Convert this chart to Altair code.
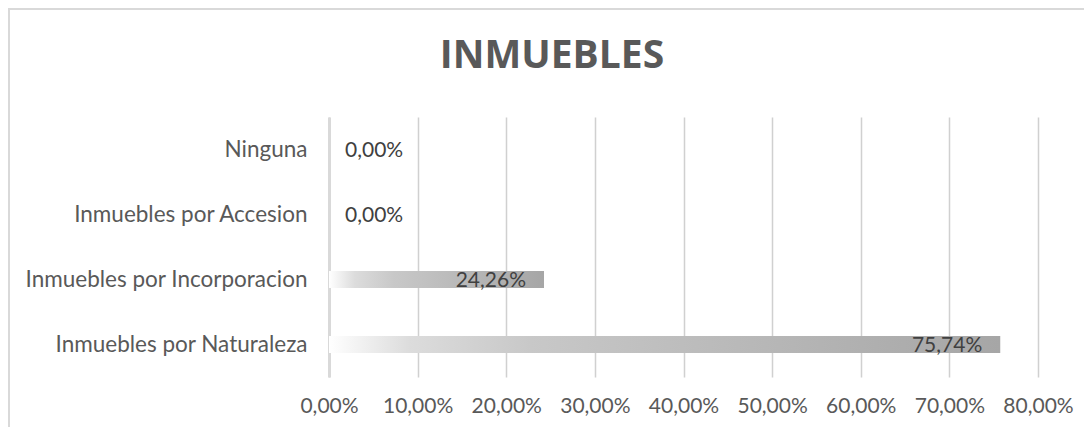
import altair as alt
import pandas as pd

categories = ["Ninguna", "Inmuebles por Accesion", "Inmuebles por Incorporacion", "Inmuebles por Naturaleza"]
values = [0.0, 0.0, 0.2426, 0.7574]
x_ticks = [0, 0.1, 0.2, 0.3, 0.4, 0.5, 0.6, 0.7, 0.8]
title_text = "INMUEBLES"

df = pd.DataFrame({"cat": categories, "val": values})

FONT = "Lato"
FS = 21

y_enc = alt.Y("cat:N", sort=categories, title=None,
              scale=alt.Scale(paddingInner=0.74, paddingOuter=0.37),
              axis=alt.Axis(labelFontSize=22.5, labelColor="#595959", labelFont=FONT,
                            ticks=False, domain=True, domainColor="#d9d9d9", domainWidth=3,
                            labelPadding=22, grid=False, labelLimit=0))
x_enc = alt.X("val:Q", title=None,
              scale=alt.Scale(domain=[0, 0.8], nice=False),
              axis=alt.Axis(values=x_ticks, labelExpr="replace(format(datum.value, '.2%'), '.', ',')",
                            labelFontSize=FS, labelColor="#595959", labelFont=FONT,
                            ticks=False, domain=False, grid=True, gridColor="#d0d0d0",
                            gridWidth=1.5, labelPadding=18, labelFlush=False))

base = alt.Chart(df).encode(y=y_enc)

bars = base.mark_bar(
    color=alt.Gradient(
        gradient="linear",
        stops=[alt.GradientStop(color="#ffffff", offset=0),
               alt.GradientStop(color="#dcdcdc", offset=0.12),
               alt.GradientStop(color="#c8c8c8", offset=0.3),
               alt.GradientStop(color="#a6a6a6", offset=1)],
        x1=0, x2=1, y1=0, y2=0)
).encode(x=x_enc)

lab = base.transform_calculate(
    lbl="replace(format(datum.val, '.2%'), '.', ',')"
)

labels_pos = lab.transform_filter("datum.val > 0").mark_text(
    align="right", baseline="middle", dx=-18, dy=1, fontSize=FS, font=FONT, color="#404040"
).encode(x=alt.X("val:Q"), text="lbl:N")

labels_zero = lab.transform_filter("datum.val <= 0").mark_text(
    align="left", baseline="middle", dx=16, dy=1, fontSize=FS, font=FONT, color="#404040"
).encode(x=alt.X("val:Q"), text="lbl:N")

border = alt.Chart(alt.Data(values=[{}])).mark_rect(
    fill=None, stroke="#d9d9d9", strokeWidth=2
).encode(x=alt.value(-320), x2=alt.value(800), y=alt.value(-108), y2=alt.value(500))

title = alt.Chart(alt.Data(values=[{"t": title_text}])).mark_text(
    fontSize=39, font="Open Sans", fontWeight="bold", color="#595959",
    align="center", baseline="alphabetic"
).encode(text="t:N", x=alt.value(223), y=alt.value(-49))

chart = alt.layer(border, bars, labels_pos, labels_zero, title).properties(
    width=709, height=260,
    autosize=alt.AutoSizeParams(type="none"),
    padding={"left": 321, "top": 109, "right": 46, "bottom": 50},
).configure_view(stroke=None)

chart.save("out.html", embed_options={"renderer": "svg", "actions": False})
